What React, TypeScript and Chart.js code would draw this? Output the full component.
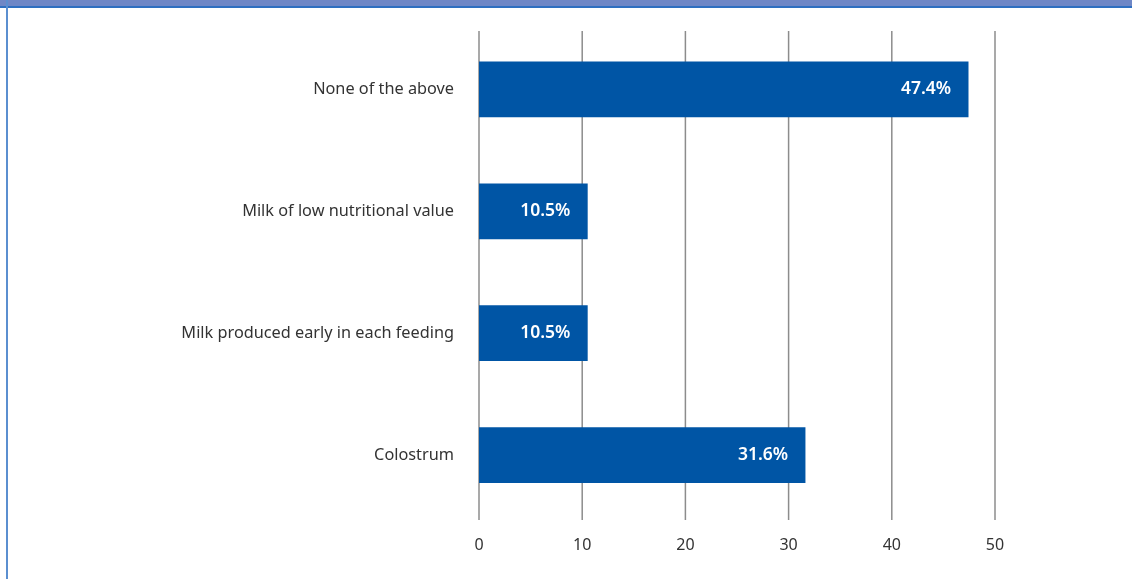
import React, { useEffect, useRef } from "react";
import { Chart, registerables } from "chart.js";

Chart.register(...registerables);

const categories = [
  "None of the above",
  "Milk of low nutritional value",
  "Milk produced early in each feeding",
  "Colostrum",
];
const values = [47.4, 10.5, 10.5, 31.6];
const valueLabels = ["47.4%", "10.5%", "10.5%", "31.6%"];
const xTicks = [0, 10, 20, 30, 40, 50];

const FONT = "'Noto Sans', 'Open Sans', sans-serif";

const barLabelPlugin = {
  id: "barLabels",
  afterDatasetsDraw(chart: any) {
    const ctx = chart.ctx;
    const meta = chart.getDatasetMeta(0);
    ctx.save();
    ctx.fillStyle = "#ffffff";
    ctx.font = `600 17.5px ${FONT}`;
    ctx.textAlign = "right";
    ctx.textBaseline = "middle";
    meta.data.forEach((bar: any, i: number) => {
      ctx.fillText(valueLabels[i], bar.x - 17, bar.y);
    });
    ctx.restore();
  },
};

const gridPlugin = {
  id: "customGrid",
  beforeDatasetsDraw(chart: any) {
    const ctx = chart.ctx;
    const xs = chart.scales.x;
    const area = chart.chartArea;
    ctx.save();
    ctx.strokeStyle = "#8c8c8c";
    ctx.lineWidth = 1.5;
    xTicks.forEach((v) => {
      const px = xs.getPixelForValue(v);
      ctx.beginPath();
      ctx.moveTo(px, area.top + 2.5);
      ctx.lineTo(px, area.bottom + 4);
      ctx.stroke();
    });
    ctx.restore();
  },
};

export default function App() {
  const ref = useRef<HTMLCanvasElement | null>(null);

  useEffect(() => {
    if (!ref.current) return;
    const chart = new Chart(ref.current, {
      type: "bar",
      data: {
        labels: categories,
        datasets: [
          {
            data: values,
            backgroundColor: "#0055a5",
            borderWidth: 0,
            barThickness: 55,
          },
        ],
      },
      options: {
        indexAxis: "y",
        animation: false,
        responsive: false,
        maintainAspectRatio: false,
        layout: { padding: { top: 28.5, right: 137, left: 0, bottom: 0 } },
        plugins: {
          legend: { display: false },
          tooltip: { enabled: false },
        },
        scales: {
          x: {
            min: 0,
            max: 50,
            afterBuildTicks: (s: any) => {
              s.ticks = xTicks.map((v) => ({ value: v }));
            },
            afterFit: (s: any) => {
              s.height = 63;
              s.paddingLeft = 0;
              s.paddingRight = 0;
            },
            grid: { display: false, drawTicks: false },
            border: { display: false },
            ticks: {
              padding: 20,
              color: "#333333",
              font: { family: FONT, size: 16 },
            },
          },
          y: {
            afterFit: (s: any) => {
              s.width = 479;
              s.paddingTop = 0;
              s.paddingBottom = 0;
            },
            grid: { display: false, drawTicks: false },
            border: { display: false },
            ticks: {
              padding: 25,
              color: "#333333",
              font: { family: FONT, size: 16.3 },
            },
          },
        },
      },
      plugins: [gridPlugin, barLabelPlugin],
    });
    return () => chart.destroy();
  }, []);

  return (
    <div
      style={{
        position: "fixed",
        left: 0,
        top: 0,
        width: 1132,
        height: 579,
        background: "#ffffff",
        overflow: "hidden",
      }}
    >
      <div
        style={{
          position: "absolute",
          left: 0,
          top: 0,
          width: 1132,
          height: 6,
          background: "#6f87c6",
        }}
      />
      <div
        style={{
          position: "absolute",
          left: 0,
          top: 6,
          width: 1132,
          height: 2,
          background: "#2f6fc0",
        }}
      />
      <div
        style={{
          position: "absolute",
          left: 6,
          top: 0,
          width: 2,
          height: 579,
          background: "#5b8fd0",
        }}
      />
      <canvas
        ref={ref}
        width={1132}
        height={579}
        style={{ position: "absolute", left: 0, top: 0, width: 1132, height: 579 }}
      />
    </div>
  );
}
